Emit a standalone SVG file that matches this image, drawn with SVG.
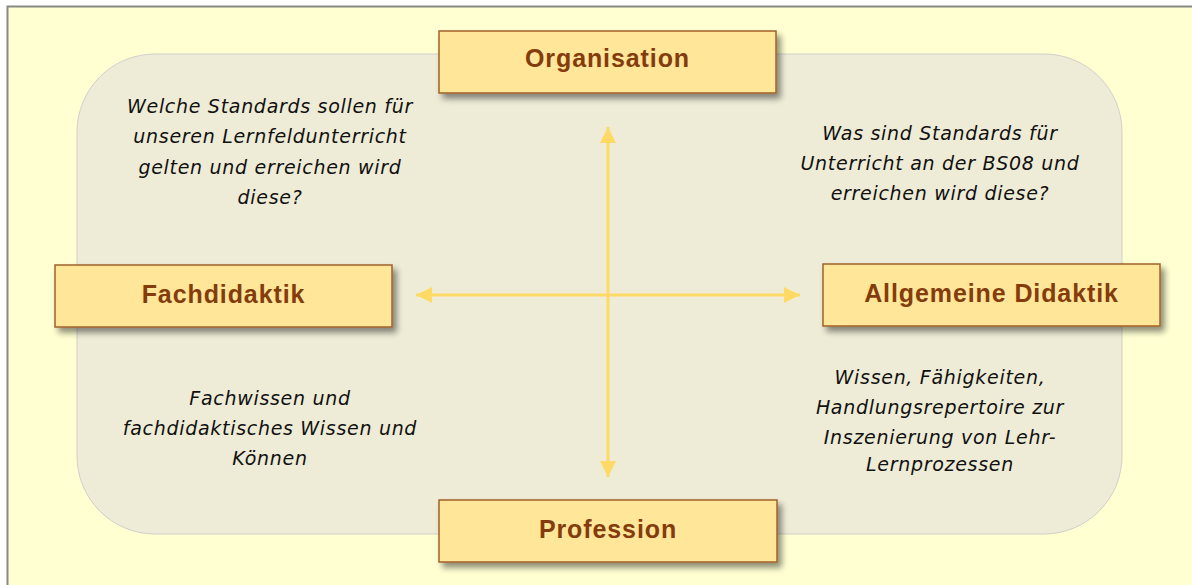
<svg xmlns="http://www.w3.org/2000/svg" width="1192" height="585" viewBox="0 0 1192 585">
<style>
.box{fill:#FFE699;stroke:#A0612A;stroke-width:1.5}
.title{font-family:"Liberation Sans",Arial,sans-serif;font-weight:bold;font-size:25px;letter-spacing:0.9px;fill:#843C0C;text-anchor:middle}
.txt{font-family:"DejaVu Sans",Verdana,sans-serif;font-style:italic;font-size:19px;letter-spacing:0.7px;fill:#111;text-anchor:middle}
.con{stroke:#FFD966;stroke-width:3;fill:none}
</style>
<defs>
<filter id="sh" x="-10%" y="-20%" width="130%" height="160%">
<feGaussianBlur in="SourceAlpha" stdDeviation="3"/>
<feOffset dx="4" dy="5" result="b"/>
<feComponentTransfer><feFuncA type="linear" slope="0.45"/></feComponentTransfer>
<feMerge><feMergeNode/><feMergeNode in="SourceGraphic"/></feMerge>
</filter>
<marker id="ah" viewBox="0 0 16 16" refX="16" refY="8" markerWidth="16" markerHeight="16" markerUnits="userSpaceOnUse" orient="auto-start-reverse">
<path d="M0,0 L16,8 L0,16 Z" fill="#FFD966"/>
</marker>
</defs>
<rect x="7.5" y="6.5" width="1190" height="585" fill="#FFFFD2" stroke="#888" stroke-width="2"/>
<rect x="77" y="54" width="1045" height="480" rx="78" ry="78" fill="#EEECD6" stroke="#CFCFCF" stroke-width="1"/>
<g id="connectors">
<line class="con" x1="608" y1="127" x2="608" y2="477" marker-start="url(#ah)" marker-end="url(#ah)"/>
<line class="con" x1="416" y1="295" x2="800" y2="295" marker-start="url(#ah)" marker-end="url(#ah)"/>
</g>
<g id="organisation">
<rect class="box" x="439" y="31" width="337" height="62" filter="url(#sh)"/>
<text class="title" x="607.5" y="67">Organisation</text>
</g>
<g id="fachdidaktik">
<rect class="box" x="55" y="265" width="337" height="62" filter="url(#sh)"/>
<text class="title" x="223.5" y="303">Fachdidaktik</text>
</g>
<g id="allgemeine-didaktik">
<rect class="box" x="823" y="264" width="337" height="62" filter="url(#sh)"/>
<text class="title" x="991.5" y="302">Allgemeine Didaktik</text>
</g>
<g id="profession">
<rect class="box" x="439" y="500" width="338" height="62" filter="url(#sh)"/>
<text class="title" x="608" y="538">Profession</text>
</g>
<g id="text-top-left">
<text class="txt" x="270" y="113">Welche Standards sollen für</text>
<text class="txt" x="270" y="143">unseren Lernfeldunterricht</text>
<text class="txt" x="270" y="174">gelten und erreichen wird</text>
<text class="txt" x="270" y="204">diese?</text>
</g>
<g id="text-top-right">
<text class="txt" x="940" y="140">Was sind Standards für</text>
<text class="txt" x="940" y="170">Unterricht an der BS08 und</text>
<text class="txt" x="940" y="200">erreichen wird diese?</text>
</g>
<g id="text-bottom-left">
<text class="txt" x="270" y="405">Fachwissen und</text>
<text class="txt" x="270" y="435">fachdidaktisches Wissen und</text>
<text class="txt" x="270" y="465">Können</text>
</g>
<g id="text-bottom-right">
<text class="txt" x="940" y="384">Wissen, Fähigkeiten,</text>
<text class="txt" x="940" y="414">Handlungsrepertoire zur</text>
<text class="txt" x="940" y="444">Inszenierung von Lehr-</text>
<text class="txt" x="940" y="471">Lernprozessen</text>
</g>
</svg>
